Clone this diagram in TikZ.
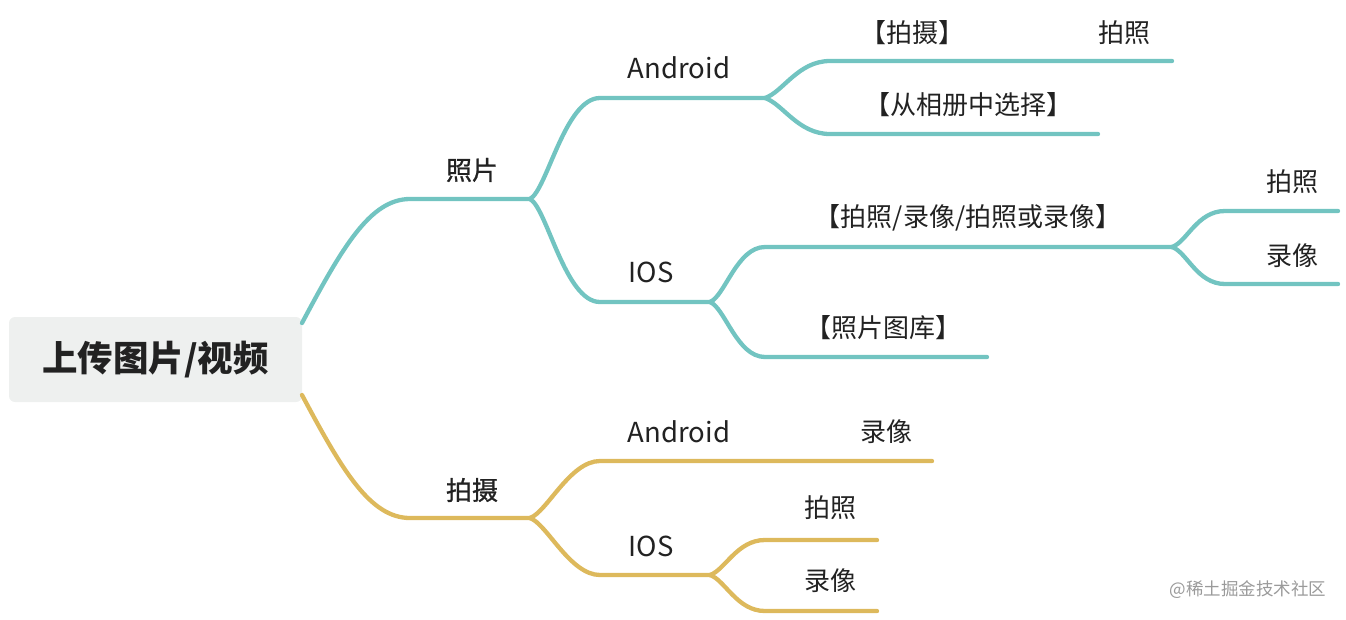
\documentclass[tikz,border=0pt]{standalone}
\usepackage{fontspec}
\setmainfont{Noto Sans CJK SC}
\newfontfamily\medfont[FakeBold=0.9]{Noto Sans CJK SC}
\definecolor{tealc}{HTML}{72C4C1}
\definecolor{goldc}{HTML}{DDB95C}
\definecolor{rootfill}{HTML}{EEF0EF}
\definecolor{txt}{HTML}{222222}
\definecolor{wm}{HTML}{9A9A9A}
\begin{document}
\begin{tikzpicture}[x=1pt,y=-1pt,line cap=round,
  tline/.style={draw=tealc,line width=4.3pt},
  gline/.style={draw=goldc,line width=4.3pt},
  lbl/.style={text=txt,font=\fontsize{26}{28}\selectfont,inner sep=0pt},
  latin/.style={text=txt,font=\fontsize{27.5}{29}\selectfont,inner sep=0pt},
  blbl/.style={text=txt,font=\fontsize{26}{28}\selectfont\medfont,inner sep=0pt},
  rootbox/.style={fill=rootfill,rounded corners=6pt,minimum width=293pt,minimum height=85pt,inner sep=0pt,text=txt,font=\fontsize{35.5}{38}\selectfont\bfseries}]
\useasboundingbox (0,0) rectangle (1346,619);
% root
\node[rootbox] (root) at (155.5,359.5) {上传图片/视频};
% coordinates teal
\coordinate (r1) at (302,323);
\coordinate (p1) at (410,199); \coordinate (f1) at (530,199);
\coordinate (a1) at (600,98);  \coordinate (fa) at (765,98);
\coordinate (i1) at (600,302); \coordinate (fi) at (710,302);
\coordinate (ta) at (830,61);  \coordinate (tae) at (1172,61);
\coordinate (tb) at (830,134); \coordinate (tbe) at (1098,134);
\coordinate (tc) at (765,247); \coordinate (fj) at (1172,247);
\coordinate (td) at (1225,211); \coordinate (tde) at (1338,211);
\coordinate (te) at (1225,284); \coordinate (tee) at (1338,284);
\coordinate (tf) at (765,357); \coordinate (tfe) at (987,357);
% coordinates gold
\coordinate (r2) at (302,395);
\coordinate (p2) at (410,518); \coordinate (f2) at (530,518);
\coordinate (ga) at (600,461); \coordinate (gae) at (932,461);
\coordinate (gi) at (600,575); \coordinate (fg) at (710,575);
\coordinate (gb) at (765,540); \coordinate (gbe) at (877,540);
\coordinate (gc) at (765,611); \coordinate (gce) at (877,611);
% teal connectors
\draw[tline] (r1) .. controls +(40,-75) and +(-40,0) .. (p1) -- (f1);
\draw[tline] (f1) .. controls +(17,-9) and +(-35,0) .. (a1) -- (fa);
\draw[tline] (f1) .. controls +(17,9) and +(-35,0) .. (i1) -- (fi);
\draw[tline] (fa) .. controls +(18,-6) and +(-32,0) .. (ta) -- (tae);
\draw[tline] (fa) .. controls +(18,6) and +(-32,0) .. (tb) -- (tbe);
\draw[tline] (fi) .. controls +(15,-6) and +(-28,0) .. (tc) -- (fj);
\draw[tline] (fi) .. controls +(15,6) and +(-28,0) .. (tf) -- (tfe);
\draw[tline] (fj) .. controls +(15,-5) and +(-28,0) .. (td) -- (tde);
\draw[tline] (fj) .. controls +(15,5) and +(-28,0) .. (te) -- (tee);
% gold connectors
\draw[gline] (r2) .. controls +(40,75) and +(-40,0) .. (p2) -- (f2);
\draw[gline] (f2) .. controls +(17,-6) and +(-30,0) .. (ga) -- (gae);
\draw[gline] (f2) .. controls +(17,6) and +(-30,0) .. (gi) -- (fg);
\draw[gline] (fg) .. controls +(15,-5) and +(-28,0) .. (gb) -- (gbe);
\draw[gline] (fg) .. controls +(15,5) and +(-28,0) .. (gc) -- (gce);
% labels teal
\node[blbl] (zp) at (472,170) {照片};
\node[latin] (and1) at (679,68) {Android};
\node[latin] (ios1) at (651,272) {IOS};
\node[lbl] (ps1) at (912,33) {【拍摄】};
\node[lbl] (pz1) at (1124,33) {拍照};
\node[lbl] (xc) at (968,105) {【从相册中选择】};
\node[lbl] (plh) at (968,218) {【拍照/录像/拍照或录像】};
\node[lbl] (pz2) at (1292,182) {拍照};
\node[lbl] (lx2) at (1292,256) {录像};
\node[lbl] (tk) at (883,328) {【照片图库】};
% labels gold
\node[blbl] (ps) at (472,490) {拍摄};
\node[latin] (and2) at (679,432) {Android};
\node[lbl] (lx3) at (886,432) {录像};
\node[latin] (ios2) at (651,546) {IOS};
\node[lbl] (pz3) at (830,508) {拍照};
\node[lbl] (lx4) at (830,581) {录像};
% watermark
\node[text=wm,font=\fontsize{17.5}{19}\selectfont,inner sep=0pt] (wmk) at (1248,590) {@稀土掘金技术社区};
\end{tikzpicture}
\end{document}
